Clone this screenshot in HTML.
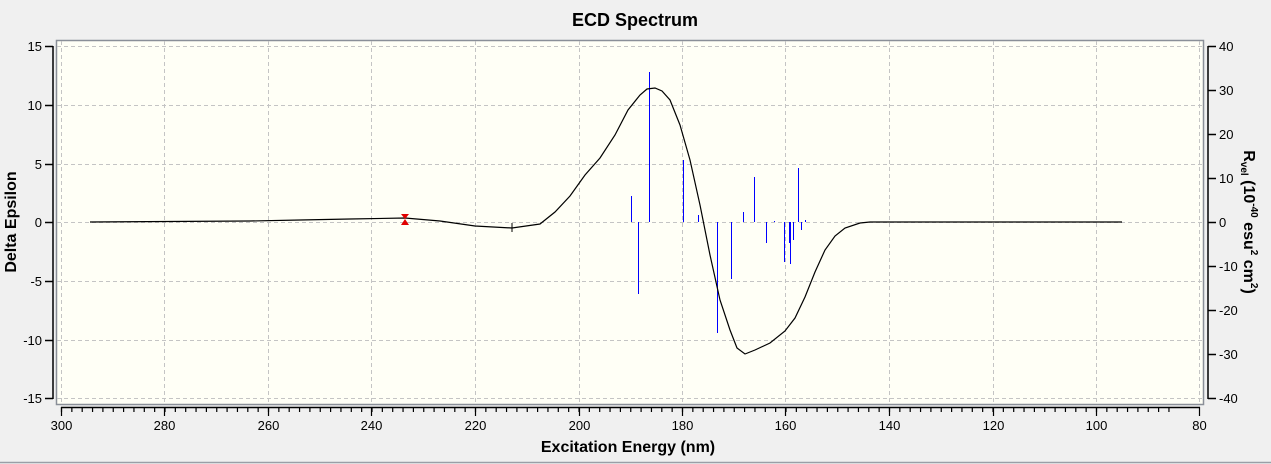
<!DOCTYPE html>
<html><head><style>body{margin:0;background:#f0f0f0;}svg{display:block;font-family:"Liberation Sans",sans-serif;}</style></head>
<body>
<svg width="1271" height="464" viewBox="0 0 1271 464">
<rect width="1271" height="464" fill="#f0f0f0"/>
<line x1="0" y1="462.5" x2="1271" y2="462.5" stroke="#9a9ea6" stroke-width="1.5"/>
<text x="635" y="26" font-size="18" font-weight="bold" text-anchor="middle">ECD Spectrum</text>
<rect x="56.5" y="40.5" width="1147" height="364" fill="#fffff6" stroke="#8a8f98" stroke-width="1.5"/>
<g stroke="#c4c4c4" stroke-dasharray="4,3" stroke-width="1">
<line x1="57" x2="1203" y1="46.5" y2="46.5"/><line x1="57" x2="1203" y1="105.5" y2="105.5"/><line x1="57" x2="1203" y1="164.5" y2="164.5"/><line x1="57" x2="1203" y1="222.5" y2="222.5"/><line x1="57" x2="1203" y1="281.5" y2="281.5"/><line x1="57" x2="1203" y1="340.5" y2="340.5"/><line x1="57" x2="1203" y1="398.5" y2="398.5"/>
<line y1="41" y2="404" x1="61.5" x2="61.5"/><line y1="41" y2="404" x1="164.5" x2="164.5"/><line y1="41" y2="404" x1="268.5" x2="268.5"/><line y1="41" y2="404" x1="371.5" x2="371.5"/><line y1="41" y2="404" x1="475.5" x2="475.5"/><line y1="41" y2="404" x1="579.5" x2="579.5"/><line y1="41" y2="404" x1="682.5" x2="682.5"/><line y1="41" y2="404" x1="785.5" x2="785.5"/><line y1="41" y2="404" x1="889.5" x2="889.5"/><line y1="41" y2="404" x1="993.5" x2="993.5"/><line y1="41" y2="404" x1="1096.5" x2="1096.5"/><line y1="41" y2="404" x1="1199.5" x2="1199.5"/>
</g>
<g stroke="#000" stroke-width="1.5" fill="none">
<line x1="53" y1="46" x2="53" y2="399"/>
<path d="M45 46.5H53M45 105.5H53M45 164.5H53M45 222.5H53M45 281.5H53M45 340.5H53M45 398.5H53"/>
<line x1="1208" y1="46" x2="1208" y2="399"/>
<path d="M1208 46.5H1216M1208 90.5H1216M1208 134.5H1216M1208 178.5H1216M1208 222.5H1216M1208 266.5H1216M1208 310.5H1216M1208 354.5H1216M1208 398.5H1216"/>
<line x1="61" y1="407.5" x2="1200" y2="407.5"/>
</g>
<g stroke="#000" stroke-width="1.2" fill="none">
<path d="M61.5 407v5m10.35 -5v5m10.35 -5v5m10.35 -5v5m10.35 -5v5m10.35 -5v5m10.35 -5v5m10.35 -5v5m10.35 -5v5m10.35 -5v5m10.35 -5v5m10.35 -5v5m10.35 -5v5m10.35 -5v5m10.35 -5v5m10.35 -5v5m10.35 -5v5m10.35 -5v5m10.35 -5v5m10.35 -5v5m10.35 -5v5m10.35 -5v5m10.35 -5v5m10.35 -5v5m10.35 -5v5m10.35 -5v5m10.35 -5v5m10.35 -5v5m10.35 -5v5m10.35 -5v5m10.35 -5v5m10.35 -5v5m10.35 -5v5m10.35 -5v5m10.35 -5v5m10.35 -5v5m10.35 -5v5m10.35 -5v5m10.35 -5v5m10.35 -5v5m10.35 -5v5m10.35 -5v5m10.35 -5v5m10.35 -5v5m10.35 -5v5m10.35 -5v5m10.35 -5v5m10.35 -5v5m10.35 -5v5m10.35 -5v5m10.35 -5v5m10.35 -5v5m10.35 -5v5m10.35 -5v5m10.35 -5v5m10.35 -5v5m10.35 -5v5m10.35 -5v5m10.35 -5v5m10.35 -5v5m10.35 -5v5m10.35 -5v5m10.35 -5v5m10.35 -5v5m10.35 -5v5m10.35 -5v5m10.35 -5v5m10.35 -5v5m10.35 -5v5m10.35 -5v5m10.35 -5v5m10.35 -5v5m10.35 -5v5m10.35 -5v5m10.35 -5v5m10.35 -5v5m10.35 -5v5m10.35 -5v5m10.35 -5v5m10.35 -5v5m10.35 -5v5m10.35 -5v5m10.35 -5v5m10.35 -5v5m10.35 -5v5m10.35 -5v5m10.35 -5v5m10.35 -5v5m10.35 -5v5m10.35 -5v5m10.35 -5v5m10.35 -5v5m10.35 -5v5m10.35 -5v5m10.35 -5v5m10.35 -5v5m10.35 -5v5m10.35 -5v5m10.35 -5v5m10.35 -5v5m10.35 -5v5m10.35 -5v5m10.35 -5v5m10.35 -5v5m10.35 -5v5m10.35 -5v5m10.35 -5v5m10.35 -5v5"/>
<path d="M61.5 407V416M164.5 407V416M268.5 407V416M371.5 407V416M475.5 407V416M579.5 407V416M682.5 407V416M785.5 407V416M889.5 407V416M993.5 407V416M1096.5 407V416M1199.5 407V416"/>
</g>
<g font-size="13" text-anchor="end">
<text x="42" y="51">15</text><text x="42" y="110">10</text><text x="42" y="169">5</text><text x="42" y="227">0</text><text x="42" y="286">-5</text><text x="42" y="345">-10</text><text x="42" y="403">-15</text>
</g>
<g font-size="13">
<text x="1219" y="51">40</text><text x="1219" y="95">30</text><text x="1219" y="139">20</text><text x="1219" y="183">10</text><text x="1219" y="227">0</text><text x="1219" y="271">-10</text><text x="1219" y="315">-20</text><text x="1219" y="359">-30</text><text x="1219" y="403">-40</text>
</g>
<g font-size="13" text-anchor="middle">
<text x="61.5" y="430">300</text><text x="164.5" y="430">280</text><text x="268.5" y="430">260</text><text x="371.5" y="430">240</text><text x="475.5" y="430">220</text><text x="579.5" y="430">200</text><text x="682.5" y="430">180</text><text x="785.5" y="430">160</text><text x="889.5" y="430">140</text><text x="993.5" y="430">120</text><text x="1096.5" y="430">100</text><text x="1199.5" y="430">80</text>
</g>
<text x="628" y="452" font-size="16" font-weight="bold" text-anchor="middle">Excitation Energy (nm)</text>
<text transform="translate(16,222) rotate(-90)" font-size="16" font-weight="bold" text-anchor="middle">Delta Epsilon</text>
<text transform="translate(1244,222) rotate(90)" font-size="16" font-weight="bold" text-anchor="middle">R<tspan font-size="10" dy="3">vel</tspan><tspan dy="-3"> (10</tspan><tspan font-size="10" dy="-7">-40</tspan><tspan dy="7"> esu</tspan><tspan font-size="10" dy="-7">2</tspan><tspan dy="7"> cm</tspan><tspan font-size="10" dy="-7">2</tspan><tspan dy="7">)</tspan></text>
<g stroke="#0000ff" stroke-width="1">
<line x1="631.5" y1="222" x2="631.5" y2="196"/><line x1="638.5" y1="222" x2="638.5" y2="294"/><line x1="649.5" y1="222" x2="649.5" y2="72"/><line x1="683.5" y1="222" x2="683.5" y2="160"/><line x1="698.5" y1="222" x2="698.5" y2="215"/><line x1="717.5" y1="222" x2="717.5" y2="333"/><line x1="731.5" y1="222" x2="731.5" y2="279"/><line x1="743.5" y1="222" x2="743.5" y2="212"/><line x1="754.5" y1="222" x2="754.5" y2="177"/><line x1="766.5" y1="222" x2="766.5" y2="243"/><line x1="774.5" y1="222" x2="774.5" y2="221"/><line x1="784.5" y1="222" x2="784.5" y2="262"/><line x1="789.5" y1="222" x2="789.5" y2="243"/><line x1="790.5" y1="222" x2="790.5" y2="264"/><line x1="793.5" y1="222" x2="793.5" y2="240"/><line x1="798.5" y1="222" x2="798.5" y2="168"/><line x1="801.5" y1="222" x2="801.5" y2="230"/><line x1="805.5" y1="222" x2="805.5" y2="220"/>
</g>
<polyline fill="none" stroke="#000" stroke-width="1.2" points="90,222 250,221 300,220 350,219 405,218 440,221 475,226 512,228 540,224 555,212 570,196 585,175 600,158 615,135 628,110 640,95 647,89 655,88 662,91 670,100 680,125 690,160 700,205 710,255 720,300 730,330 737,348 745,354 755,350 770,343 785,331 795,318 805,297 815,272 825,250 835,236 845,228 860,223 870,222 1122,222"/>
<line x1="512" y1="223" x2="512" y2="232" stroke="#000"/>
<path d="M401 214H409L405 219L409 225H401L405 219Z" fill="#e00000"/>
</svg>
</body></html>
